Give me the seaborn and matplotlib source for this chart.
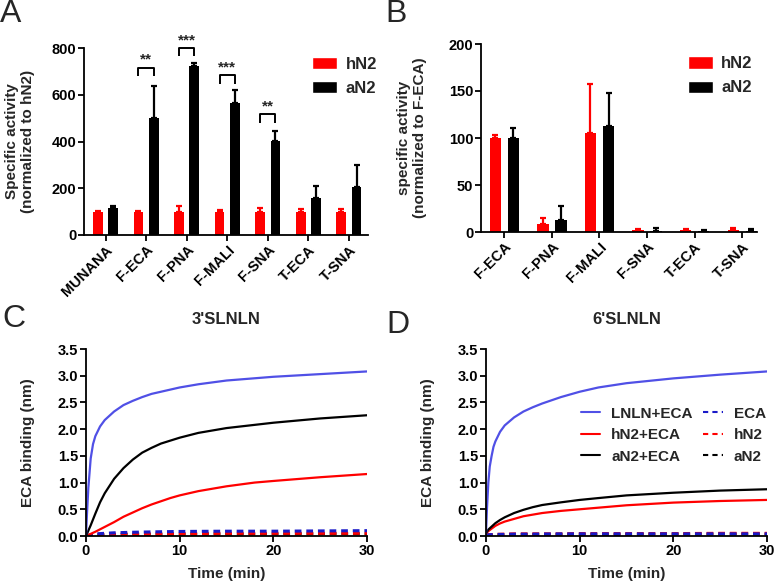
import numpy as np
import pandas as pd
import matplotlib
matplotlib.use("Agg")
import matplotlib.pyplot as plt
import seaborn as sns
from matplotlib.patches import Patch
from matplotlib.lines import Line2D

# ---------------- data ----------------
# Panel A
a_cats = ["MUNANA", "F-ECA", "F-PNA", "F-MALI", "F-SNA", "T-ECA", "T-SNA"]
a_hN2 = [100, 100, 100, 100, 100, 100, 100]
a_hN2_sd = [4, 4, 25, 8, 14, 12, 13]
a_aN2 = [114, 500, 724, 563, 402, 157, 207]
a_aN2_sd = [8, 138, 10, 56, 44, 52, 93]
a_sig_cats = ["F-ECA", "F-PNA", "F-MALI", "F-SNA"]
a_sig_marks = ["**", "***", "***", "**"]
a_sig_height = [715, 800, 683, 517]

# Panel B
b_cats = ["F-ECA", "F-PNA", "F-MALI", "F-SNA", "T-ECA", "T-SNA"]
b_hN2 = [100, 8, 105, 2, 2, 2.5]
b_hN2_sd = [3, 7, 52, 1.5, 1, 1.5]
b_aN2 = [100, 13, 113, 1, 1, 1]
b_aN2_sd = [11, 15, 35, 3, 1, 2]

# Panel C (3'SLNLN)
c_t_lnln = [0, 0.1, 0.25, 0.5, 0.75, 1, 1.5, 2, 3, 4, 5, 6, 7, 8, 10, 12, 15, 20, 25, 30]
c_lnln = [0, 0.4, 0.9, 1.45, 1.72, 1.87, 2.05, 2.17, 2.33, 2.45, 2.53, 2.6, 2.66, 2.7, 2.78, 2.84, 2.91, 2.98, 3.03, 3.08]
c_t_an2 = [0, 0.5, 1, 1.5, 2, 3, 4, 5, 6, 7, 8, 10, 12, 15, 20, 25, 30]
c_an2 = [0, 0.2, 0.42, 0.63, 0.8, 1.07, 1.27, 1.43, 1.56, 1.65, 1.73, 1.84, 1.93, 2.02, 2.12, 2.2, 2.26]
c_t_hn2 = [0, 1, 2, 3, 4, 5, 6, 7, 8, 9, 10, 12, 15, 18, 20, 25, 30]
c_hn2 = [0, 0.08, 0.17, 0.26, 0.36, 0.44, 0.52, 0.59, 0.65, 0.71, 0.76, 0.84, 0.93, 1.0, 1.03, 1.1, 1.16]
c_t_ctrl = [0, 1, 2, 3, 5, 8, 10, 15, 20, 25, 30]
c_eca = [0, 0.04, 0.05, 0.06, 0.07, 0.08, 0.085, 0.09, 0.09, 0.095, 0.1]
c_hn2_only = [0, 0.02, 0.03, 0.035, 0.04, 0.04, 0.045, 0.05, 0.05, 0.05, 0.05]
c_an2_only = [0, 0.02, 0.02, 0.025, 0.03, 0.03, 0.03, 0.035, 0.035, 0.04, 0.04]

# Panel D (6'SLNLN)
d_t_lnln = [0, 0.1, 0.25, 0.4, 0.6, 0.8, 1, 1.5, 2, 3, 4, 5, 6, 8, 10, 12, 15, 20, 25, 30]
d_lnln = [0.05, 0.5, 1.0, 1.3, 1.5, 1.67, 1.77, 1.95, 2.07, 2.22, 2.33, 2.41, 2.48, 2.6, 2.7, 2.78, 2.86, 2.95, 3.02, 3.08]
d_t_n2 = [0, 0.25, 0.5, 1, 1.5, 2, 3, 4, 5, 6, 8, 10, 12, 15, 20, 25, 30]
d_an2 = [0.05, 0.12, 0.16, 0.24, 0.3, 0.35, 0.43, 0.49, 0.54, 0.58, 0.63, 0.675, 0.71, 0.76, 0.81, 0.85, 0.875]
d_hn2 = [0.05, 0.09, 0.125, 0.19, 0.235, 0.27, 0.32, 0.37, 0.4, 0.43, 0.47, 0.5, 0.53, 0.575, 0.625, 0.655, 0.675]
d_t_ctrl = [0, 1, 2, 3, 5, 8, 10, 15, 20, 25, 30]
d_eca = [0.02, 0.03, 0.03, 0.035, 0.035, 0.04, 0.04, 0.04, 0.04, 0.04, 0.04]
d_hn2_only = [0.02, 0.03, 0.035, 0.04, 0.04, 0.04, 0.045, 0.045, 0.045, 0.05, 0.05]
d_an2_only = [0.01, 0.02, 0.02, 0.025, 0.03, 0.03, 0.03, 0.03, 0.035, 0.035, 0.035]

# ---------------- style ----------------
RED = "#FF0000"
BLUE = "#5050E6"
DBLUE = "#1A1AC8"
TICK_FS = 10.5

sns.set_theme(style="ticks")
plt.rcParams["font.family"] = ["Liberation Sans", "DejaVu Sans"]
plt.rcParams["font.weight"] = "bold"
plt.rcParams["axes.labelweight"] = "bold"
plt.rcParams["axes.linewidth"] = 1.3
plt.rcParams["xtick.major.width"] = 1.3
plt.rcParams["ytick.major.width"] = 1.3
plt.rcParams["xtick.major.size"] = 4
plt.rcParams["ytick.major.size"] = 4
plt.rcParams["xtick.major.pad"] = 1.5
plt.rcParams["ytick.major.pad"] = 1.5
plt.rcParams["xtick.color"] = "black"
plt.rcParams["ytick.color"] = "black"
plt.rcParams["axes.edgecolor"] = "black"

W, H = 775, 583
fig = plt.figure(figsize=(W / 100, H / 100), dpi=100)


def axes_px(l, t, r, b):
    return fig.add_axes([l / W, 1 - b / H, (r - l) / W, (b - t) / H])


axA = axes_px(84, 48, 368, 235)
axB = axes_px(481, 44, 757, 232)
axC = axes_px(86, 349, 367, 536)
axD = axes_px(486, 349, 767, 536)


def bar_panel(ax, cats, h, hsd, a, asd):
    df = pd.DataFrame({
        "cat": cats + cats,
        "val": h + a,
        "grp": ["hN2"] * len(cats) + ["aN2"] * len(cats),
    })
    sns.barplot(data=df, x="cat", y="val", hue="grp", hue_order=["hN2", "aN2"],
                palette={"hN2": RED, "aN2": "black"}, width=0.76, gap=0.37,
                errorbar=None, saturation=1, linewidth=0, ax=ax, legend=False)
    centers = {}
    for cont, sds, col, g in zip(ax.containers, [hsd, asd], [RED, "black"], ["hN2", "aN2"]):
        for bar, sd, c in zip(cont, sds, cats):
            x = bar.get_x() + bar.get_width() / 2
            y = bar.get_height()
            centers[(c, g)] = x
            ax.errorbar([x], [y], yerr=[[0], [sd]], fmt="none", ecolor=col,
                        elinewidth=1.6, capsize=2.2, capthick=1.6, clip_on=False)
    sns.despine(ax=ax)
    ax.set_xlabel("")
    ax.tick_params(axis="both", labelsize=TICK_FS)
    for lab in ax.get_xticklabels():
        lab.set_rotation(45)
        lab.set_ha("right")
        lab.set_rotation_mode("anchor")
        lab.set_fontweight("bold")
    for lab in ax.get_yticklabels():
        lab.set_fontweight("bold")
    handles = [Patch(facecolor=RED, label="hN2"), Patch(facecolor="black", label="aN2")]
    return centers, handles


# ---- Panel A ----
centersA, hA = bar_panel(axA, a_cats, a_hN2, a_hN2_sd, a_aN2, a_aN2_sd)
axA.set_xlim(-0.53, len(a_cats) - 0.53)
axA.set_ylim(0, 800)
axA.set_yticks([0, 200, 400, 600, 800])
axA.set_ylabel("Specific activity\n(normalized to hN2)", fontsize=11, fontweight="bold")
axA.yaxis.set_label_coords(-0.173, 0.5)
for c, m, hgt in zip(a_sig_cats, a_sig_marks, a_sig_height):
    x1 = centersA[(c, "hN2")]
    x2 = centersA[(c, "aN2")]
    axA.plot([x1, x1, x2, x2], [hgt - 36, hgt, hgt, hgt - 36], color="black",
             lw=1.4, clip_on=False, solid_capstyle="butt")
    axA.text((x1 + x2) / 2, hgt + 4, m, ha="center", va="bottom",
             fontsize=11, fontweight="bold", clip_on=False)
axA.legend(handles=hA, loc="upper left", bbox_to_anchor=(0.78, 0.99), frameon=False,
           handlelength=1.5, handleheight=0.75, handletextpad=0.5,
           labelspacing=0.55, borderaxespad=0, prop={"weight": "bold", "size": 12})

# ---- Panel B ----
centersB, hB = bar_panel(axB, b_cats, b_hN2, b_hN2_sd, b_aN2, b_aN2_sd)
axB.set_xlim(-0.49, len(b_cats) - 0.69)
axB.set_ylim(0, 200)
axB.set_yticks([0, 50, 100, 150, 200])
axB.set_ylabel("specific activity\n(normalized to F-ECA)", fontsize=11, fontweight="bold")
axB.yaxis.set_label_coords(-0.196, 0.5)
axB.legend(handles=hB, loc="upper left", bbox_to_anchor=(0.725, 0.97), frameon=False,
           handlelength=1.5, handleheight=0.75, handletextpad=0.5,
           labelspacing=0.55, borderaxespad=0, prop={"weight": "bold", "size": 12})


# ---- Curves ----
def curve(ax, t, v, color, ls="-", lw=1.6, label=None):
    sns.lineplot(x=t, y=v, ax=ax, color=color, linestyle=ls, linewidth=lw,
                 label=label, legend=False)


def curve_panel(ax, title):
    ax.set_xlim(0, 30)
    ax.set_ylim(0, 3.5)
    ax.set_xticks([0, 10, 20, 30])
    ax.set_yticks(np.arange(0, 3.51, 0.5))
    ax.set_yticklabels([f"{v:.1f}" for v in np.arange(0, 3.51, 0.5)])
    sns.despine(ax=ax)
    ax.tick_params(labelsize=TICK_FS)
    for lab in ax.get_xticklabels() + ax.get_yticklabels():
        lab.set_fontweight("bold")
    ax.set_xlabel("Time (min)", fontsize=11, fontweight="bold")
    ax.set_ylabel("ECA binding (nm)", fontsize=11, fontweight="bold")
    ax.yaxis.set_label_coords(-0.181, 0.5)
    ax.xaxis.set_label_coords(0.5, -0.166)
    ax.text(0.5, 1.16, title, transform=ax.transAxes, ha="center", va="center",
            fontsize=12, fontweight="bold")


DASH = (0, (2.2, 1.6))
# C
curve(axC, c_t_ctrl, c_an2_only, "black", DASH, 2.2)
curve(axC, c_t_ctrl, c_hn2_only, RED, DASH, 2.2)
curve(axC, c_t_ctrl, c_eca, DBLUE, DASH, 2.2)
curve(axC, c_t_hn2, c_hn2, RED)
curve(axC, c_t_an2, c_an2, "black")
curve(axC, c_t_lnln, c_lnln, BLUE)
curve_panel(axC, "3'SLNLN")

# D
curve(axD, d_t_ctrl, d_an2_only, "black", DASH, 2.2)
curve(axD, d_t_ctrl, d_hn2_only, RED, DASH, 2.2)
curve(axD, d_t_ctrl, d_eca, DBLUE, DASH, 2.2)
curve(axD, d_t_n2, d_hn2, RED)
curve(axD, d_t_n2, d_an2, "black")
curve(axD, d_t_lnln, d_lnln, BLUE)
curve_panel(axD, "6'SLNLN")

leg_handles = [
    Line2D([], [], color=BLUE, lw=1.5, label="LNLN+ECA"),
    Line2D([], [], color=RED, lw=1.5, label="hN2+ECA"),
    Line2D([], [], color="black", lw=1.5, label="aN2+ECA"),
    Line2D([], [], color=DBLUE, lw=1.5, ls=(0, (2.5, 2)), label="ECA"),
    Line2D([], [], color=RED, lw=1.5, ls=(0, (2.5, 2)), label="hN2"),
    Line2D([], [], color="black", lw=1.5, ls=(0, (2.5, 2)), label="aN2"),
]
axD.legend(handles=leg_handles, ncol=2, loc="upper left", bbox_to_anchor=(0.315, 0.725),
           frameon=False, handlelength=1.3, handletextpad=0.7, columnspacing=0.7,
           labelspacing=0.5, borderaxespad=0, prop={"weight": "bold", "size": 11})

# ---- panel letters ----
for letter, x, y in [("A", 0, 22), ("B", 385, 22), ("C", 2, 327), ("D", 386, 333)]:
    fig.text(x / W, 1 - y / H, letter, fontsize=23, fontweight="normal",
             ha="left", va="baseline")

fig.savefig("out.png", dpi=100)
